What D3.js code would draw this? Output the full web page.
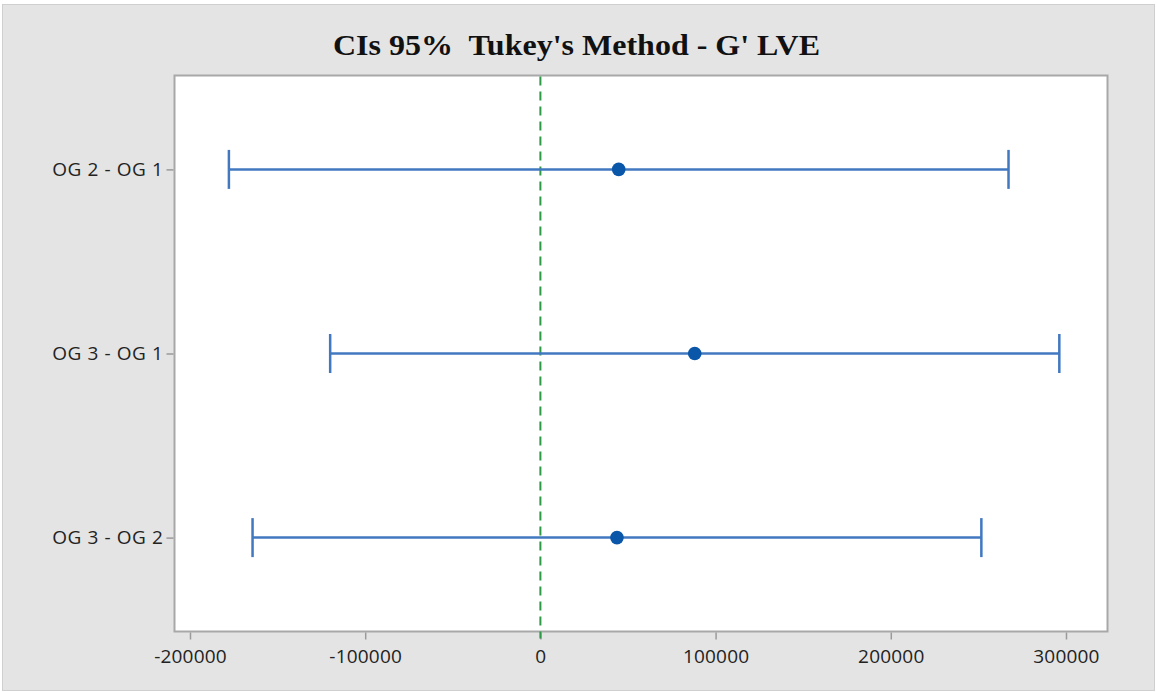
<!DOCTYPE html>
<html>
<head>
<meta charset="utf-8">
<script src="https://cdn.jsdelivr.net/npm/d3@7"></script>
<style>
  html, body { margin: 0; padding: 0; background: #ffffff; }
  svg { display: block; }
</style>
</head>
<body>
<svg id="chart" width="1157" height="692"></svg>
<script>
// Pairwise differences with 95% simultaneous confidence intervals (Tukey)
const comparisons = ["OG 2 - OG 1", "OG 3 - OG 1", "OG 3 - OG 2"];
const lowerBounds = [-177800, -120000, -164300];
const estimates   = [44700, 88100, 43700];
const upperBounds = [267200, 296200, 251700];
const xTickValues = [-200000, -100000, 0, 100000, 200000, 300000];
const titleText = "CIs 95%  Tukey's Method - G' LVE";

const svg = d3.select("#chart");
const W = 1157, H = 692;
const plot = { left: 174.5, right: 1107.5, top: 75.5, bottom: 631.5 };

// outer panel
svg.append("rect")
  .attr("x", 2.5).attr("y", 4.5)
  .attr("width", W - 5).attr("height", H - 6)
  .attr("fill", "#e4e4e4")
  .attr("stroke", "#cfcfcf");

// title
svg.append("text")
  .attr("x", 576.5).attr("y", 55)
  .attr("text-anchor", "middle")
  .attr("font-family", "'Liberation Serif', 'Times New Roman', serif")
  .attr("font-weight", "bold")
  .attr("font-size", 30)
  .attr("fill", "#111")
  .style("white-space", "pre")
  .attr("textLength", 487)
  .attr("lengthAdjust", "spacingAndGlyphs")
  .text(titleText);

// plot area
svg.append("rect")
  .attr("x", plot.left).attr("y", plot.top)
  .attr("width", plot.right - plot.left).attr("height", plot.bottom - plot.top)
  .attr("fill", "#ffffff")
  .attr("stroke", "#a8a8a8")
  .attr("stroke-width", 2);

const x = d3.scaleLinear()
  .domain([-208850, 323700])
  .range([plot.left, plot.right]);

const y = d3.scalePoint()
  .domain(comparisons)
  .range([plot.top, plot.bottom])
  .padding(0.51);

// plain integer labels with an ASCII hyphen for negatives
const fmt = d => String(d);

// x axis
const xAxis = svg.append("g")
  .attr("transform", `translate(0,${plot.bottom + 1})`)
  .call(d3.axisBottom(x).tickValues(xTickValues).tickFormat(fmt).tickSize(7).tickSizeOuter(0));
xAxis.select(".domain").remove();
xAxis.selectAll(".tick line").attr("stroke", "#9a9a9a").attr("stroke-width", 1.5);
xAxis.selectAll(".tick text")
  .attr("y", 17)
  .attr("font-family", "'Open Sans', 'Noto Sans', sans-serif")
  .attr("font-size", 19)
  .attr("letter-spacing", 0.2)
  .attr("fill", "#222");

// y axis
const yAxis = svg.append("g")
  .attr("transform", `translate(${plot.left - 1},0)`)
  .call(d3.axisLeft(y).tickSize(7).tickPadding(3).tickSizeOuter(0));
yAxis.select(".domain").remove();
yAxis.selectAll(".tick line").attr("stroke", "#9a9a9a").attr("stroke-width", 1.5);
yAxis.selectAll(".tick text")
  .attr("font-family", "'Open Sans', 'Noto Sans', sans-serif")
  .attr("font-size", 19)
  .attr("letter-spacing", 0.6)
  .attr("fill", "#222");

// reference line at zero
svg.append("line")
  .attr("x1", x(0)).attr("x2", x(0))
  .attr("y1", plot.top + 1).attr("y2", plot.bottom + 7)
  .attr("stroke", "#2f9a45")
  .attr("stroke-width", 2)
  .attr("stroke-dasharray", "9,6");

// interval bars
const rows = comparisons.map((c, i) => ({
  name: c, lo: lowerBounds[i], est: estimates[i], hi: upperBounds[i]
}));
const blue = "#4178c0";
const capHalf = 19.5;

const g = svg.append("g");
g.selectAll(".ci").data(rows).join("line")
  .attr("x1", d => x(d.lo)).attr("x2", d => x(d.hi))
  .attr("y1", d => y(d.name)).attr("y2", d => y(d.name))
  .attr("stroke", blue).attr("stroke-width", 2.5);

g.selectAll(".capL").data(rows).join("line")
  .attr("x1", d => x(d.lo)).attr("x2", d => x(d.lo))
  .attr("y1", d => y(d.name) - capHalf).attr("y2", d => y(d.name) + capHalf)
  .attr("stroke", blue).attr("stroke-width", 2.5);

g.selectAll(".capR").data(rows).join("line")
  .attr("x1", d => x(d.hi)).attr("x2", d => x(d.hi))
  .attr("y1", d => y(d.name) - capHalf).attr("y2", d => y(d.name) + capHalf)
  .attr("stroke", blue).attr("stroke-width", 2.5);

g.selectAll(".pt").data(rows).join("circle")
  .attr("cx", d => x(d.est)).attr("cy", d => y(d.name))
  .attr("r", 6.8)
  .attr("fill", "#0a56a8");
</script>
</body>
</html>
